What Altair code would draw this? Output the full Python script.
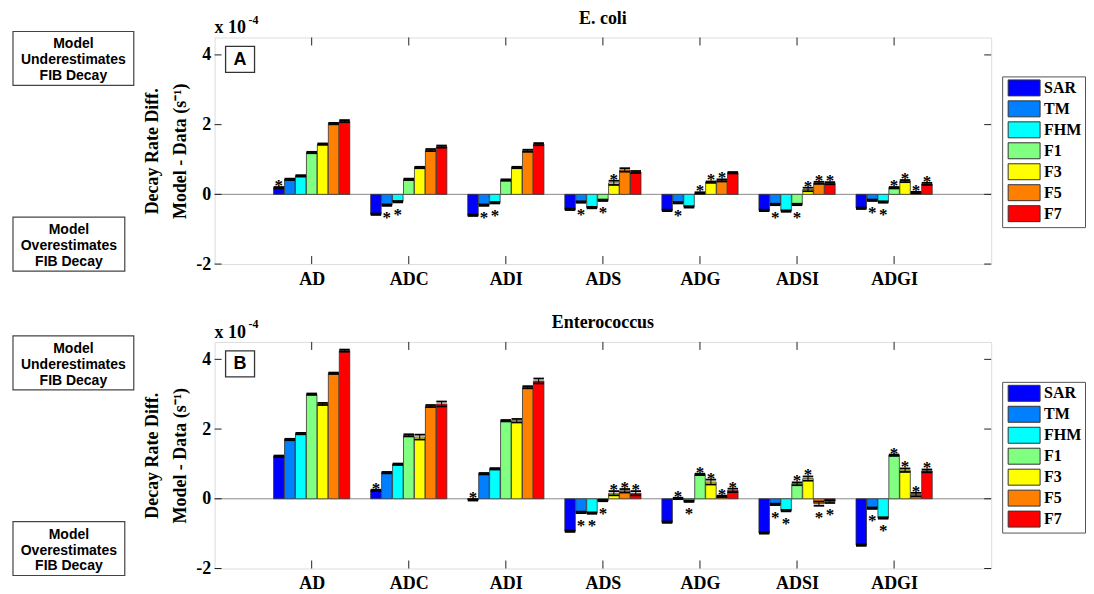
import altair as alt
import pandas as pd

# ---------------- data (values in units of 1e-4 s^-1) ----------------
series = ["SAR", "TM", "FHM", "F1", "F3", "F5", "F7"]
colors = ["#0000FF", "#0080FF", "#00FFFF", "#80FF80", "#FFFF00", "#FF8000", "#FF0000"]
categories = ["AD", "ADC", "ADI", "ADS", "ADG", "ADSI", "ADGI"]
y_ticks = [-2, 0, 2, 4]

# E. coli
ecoli_AD = [0.19, 0.43, 0.53, 1.20, 1.44, 2.03, 2.10]
ecoli_ADC = [-0.57, -0.31, -0.21, 0.43, 0.77, 1.27, 1.37]
ecoli_ADI = [-0.60, -0.31, -0.24, 0.41, 0.77, 1.25, 1.44]
ecoli_ADS = [-0.43, -0.22, -0.38, -0.17, 0.33, 0.70, 0.64]
ecoli_ADG = [-0.46, -0.24, -0.36, 0.04, 0.35, 0.40, 0.62]
ecoli_ADSI = [-0.46, -0.29, -0.48, -0.29, 0.14, 0.33, 0.32]
ecoli_ADGI = [-0.40, -0.17, -0.22, 0.19, 0.38, 0.05, 0.30]

ecoli_err_AD = [0.02, 0.02, 0.02, 0.02, 0.02, 0.02, 0.03]
ecoli_err_ADC = [0.02, 0.02, 0.02, 0.02, 0.02, 0.03, 0.03]
ecoli_err_ADI = [0.02, 0.02, 0.02, 0.02, 0.02, 0.03, 0.03]
ecoli_err_ADS = [0.02, 0.02, 0.02, 0.02, 0.06, 0.05, 0.03]
ecoli_err_ADG = [0.02, 0.02, 0.02, 0.02, 0.02, 0.03, 0.02]
ecoli_err_ADSI = [0.02, 0.02, 0.02, 0.02, 0.05, 0.03, 0.03]
ecoli_err_ADGI = [0.02, 0.02, 0.02, 0.02, 0.03, 0.02, 0.03]

# significance stars: 1 = above bar, -1 = below bar, 0 = none
ecoli_star_AD = [1, 0, 0, 0, 0, 0, 0]
ecoli_star_ADC = [0, -1, -1, 0, 0, 0, 0]
ecoli_star_ADI = [0, -1, -1, 0, 0, 0, 0]
ecoli_star_ADS = [0, -1, 0, -1, 1, 0, 0]
ecoli_star_ADG = [0, -1, 0, 1, 1, 1, 0]
ecoli_star_ADSI = [0, -1, 0, -1, 1, 1, 1]
ecoli_star_ADGI = [0, -1, -1, 1, 1, 1, 1]

# Enterococcus
ent_AD = [1.22, 1.70, 1.87, 3.00, 2.72, 3.60, 4.25]
ent_ADC = [0.24, 0.75, 0.99, 1.82, 1.77, 2.66, 2.72]
ent_ADI = [-0.03, 0.72, 0.86, 2.24, 2.24, 3.20, 3.38]
ent_ADS = [-0.93, -0.39, -0.41, -0.05, 0.16, 0.23, 0.16]
ent_ADG = [-0.67, 0.01, -0.07, 0.70, 0.48, 0.07, 0.24]
ent_ADSI = [-0.98, -0.16, -0.34, 0.43, 0.58, -0.14, -0.08]
ent_ADGI = [-1.33, -0.27, -0.55, 1.25, 0.82, 0.12, 0.80]

ent_err_AD = [0.02, 0.02, 0.02, 0.02, 0.03, 0.02, 0.03]
ent_err_ADC = [0.02, 0.02, 0.02, 0.03, 0.07, 0.03, 0.07]
ent_err_ADI = [0.02, 0.02, 0.02, 0.02, 0.05, 0.03, 0.07]
ent_err_ADS = [0.02, 0.02, 0.02, 0.02, 0.06, 0.05, 0.06]
ent_err_ADG = [0.02, 0.02, 0.02, 0.02, 0.07, 0.02, 0.05]
ent_err_ADSI = [0.02, 0.02, 0.02, 0.04, 0.06, 0.06, 0.04]
ent_err_ADGI = [0.02, 0.02, 0.02, 0.02, 0.05, 0.05, 0.04]

ent_star_AD = [0, 0, 0, 0, 0, 0, 0]
ent_star_ADC = [1, 0, 0, 0, 0, 0, 0]
ent_star_ADI = [1, 0, 0, 0, 0, 0, 0]
ent_star_ADS = [0, -1, -1, -1, 1, 1, 1]
ent_star_ADG = [0, 1, -1, 1, 1, 1, 1]
ent_star_ADSI = [0, -1, -1, 1, 1, -1, -1]
ent_star_ADGI = [0, -1, -1, 1, 1, 1, 1]


def build_frame(vals, errs, stars):
    rows = []
    for gi, cat in enumerate(categories):
        for si, s in enumerate(series):
            rows.append(dict(category=cat, gi=gi, series=s, si=si,
                             value=vals[gi][si], err=errs[gi][si], star=stars[gi][si]))
    return pd.DataFrame(rows)


ecoli_df = build_frame(
    [ecoli_AD, ecoli_ADC, ecoli_ADI, ecoli_ADS, ecoli_ADG, ecoli_ADSI, ecoli_ADGI],
    [ecoli_err_AD, ecoli_err_ADC, ecoli_err_ADI, ecoli_err_ADS, ecoli_err_ADG, ecoli_err_ADSI, ecoli_err_ADGI],
    [ecoli_star_AD, ecoli_star_ADC, ecoli_star_ADI, ecoli_star_ADS, ecoli_star_ADG, ecoli_star_ADSI, ecoli_star_ADGI],
)
ent_df = build_frame(
    [ent_AD, ent_ADC, ent_ADI, ent_ADS, ent_ADG, ent_ADSI, ent_ADGI],
    [ent_err_AD, ent_err_ADC, ent_err_ADI, ent_err_ADS, ent_err_ADG, ent_err_ADSI, ent_err_ADGI],
    [ent_star_AD, ent_star_ADC, ent_star_ADI, ent_star_ADS, ent_star_ADG, ent_star_ADSI, ent_star_ADGI],
)
cat_df = pd.DataFrame({"pos": list(range(1, len(categories) + 1)), "category": categories})
ytick_df = pd.DataFrame({"v": y_ticks})

# ---------------- styling ----------------
W, H = 778, 227
PITCH = 0.1128
SERIF = "Liberation Serif"
SANS = "Liberation Sans"
XS = alt.Scale(domain=[0, 8], nice=False, zero=False)
YS = alt.Scale(domain=[-2, 4.5], nice=False, zero=False)
label_expr = "[" + ",".join("'%s'" % c for c in categories) + "][datum.value - 1]"
BAR_PATH = "M-2,-1H2V1H-2Z"


def one(v):
    return pd.DataFrame({"t": [v]})


def panel(df, title, letter, legend_y):
    base = alt.Chart(df).transform_calculate(
        xc="datum.gi + 1 + (datum.si - 3) * %f" % PITCH,
        x0="datum.gi + 1 + (datum.si - 3) * %f - %f" % (PITCH, PITCH * 0.48),
        x1="datum.gi + 1 + (datum.si - 3) * %f + %f" % (PITCH, PITCH * 0.48),
        hi="datum.value + datum.err",
        lo="datum.value - datum.err",
    )

    zero = alt.Chart(one(0)).mark_rule(color="#8a8a8a", strokeWidth=1).encode(
        y=alt.Y("t:Q", scale=YS)
    )

    bars = base.mark_bar(stroke="#333333", strokeWidth=0.8).encode(
        x=alt.X("x0:Q", scale=XS,
                axis=alt.Axis(values=list(range(1, 8)), labelExpr=label_expr, ticks=False,
                              tickSize=0, domain=False, grid=False, title=None,
                              labelFont=SERIF, labelFontWeight="bold", labelFontSize=18,
                              labelColor="black", labelPadding=6)),
        x2="x1:Q",
        y=alt.Y("value:Q", scale=YS,
                axis=alt.Axis(values=y_ticks, labelExpr="toString(datum.value)",
                              ticks=False, tickSize=0, domain=False, grid=False,
                              title=["Decay Rate Diff.", "Model - Data (s\u207b\u00b9)"],
                              titleFont=SERIF, titleFontWeight="bold", titleFontSize=18,
                              titleColor="black", titleLineHeight=28, titlePadding=6,
                              labelFont=SERIF, labelFontWeight="bold", labelFontSize=18,
                              labelColor="black", labelPadding=4)),
        y2=alt.datum(0),
        color=alt.Color("series:N", scale=alt.Scale(domain=series, range=colors),
                        legend=alt.Legend(orient="none", legendX=789, legendY=legend_y, title=None,
                                          symbolType=BAR_PATH, symbolSize=256, symbolOffset=10.5,
                                          symbolStrokeColor="#333333", symbolStrokeWidth=1,
                                          symbolOpacity=1, labelFont=SERIF, labelFontWeight="bold",
                                          labelFontSize=16, labelColor="black", labelOffset=11.5,
                                          labelLimit=60,
                                          rowPadding=0, padding=3, strokeColor="#555555",
                                          fillColor="white", cornerRadius=0)),
    )

    err_line = base.mark_rule(color="black", strokeWidth=1).encode(
        x=alt.X("xc:Q", scale=XS), y=alt.Y("lo:Q", scale=YS), y2="hi:Q"
    )
    cap_hi = base.mark_rule(color="black", strokeWidth=1.8).encode(
        x=alt.X("x0:Q", scale=XS), x2="x1:Q", y=alt.Y("hi:Q", scale=YS)
    )
    cap_lo = base.mark_rule(color="black", strokeWidth=1.8).encode(
        x=alt.X("x0:Q", scale=XS), x2="x1:Q", y=alt.Y("lo:Q", scale=YS)
    )
    star_up = base.transform_filter("datum.star == 1").mark_text(
        text="*", font=SERIF, fontWeight="bold", fontSize=17, color="black",
        baseline="alphabetic", dy=4
    ).encode(x=alt.X("xc:Q", scale=XS), y=alt.Y("hi:Q", scale=YS))
    star_dn = base.transform_filter("datum.star == -1").mark_text(
        text="*", font=SERIF, fontWeight="bold", fontSize=17, color="black",
        baseline="alphabetic", dy=17.5
    ).encode(x=alt.X("xc:Q", scale=XS), y=alt.Y("lo:Q", scale=YS))

    # inward ticks
    cat_base = alt.Chart(cat_df)
    xt_bot = cat_base.mark_rule(color="#222222", strokeWidth=1).encode(
        x=alt.X("pos:Q", scale=XS), y=alt.value(H), y2=alt.value(H - 8))
    xt_top = cat_base.mark_rule(color="#222222", strokeWidth=1).encode(
        x=alt.X("pos:Q", scale=XS), y=alt.value(0), y2=alt.value(8))
    yt_base = alt.Chart(ytick_df)
    yt_left = yt_base.mark_rule(color="#222222", strokeWidth=1).encode(
        y=alt.Y("v:Q", scale=YS), x=alt.value(0), x2=alt.value(7))
    yt_right = yt_base.mark_rule(color="#222222", strokeWidth=1).encode(
        y=alt.Y("v:Q", scale=YS), x=alt.value(W - 7), x2=alt.value(W))

    # annotations
    ttl = alt.Chart(one(title)).mark_text(
        font=SERIF, fontWeight="bold", fontSize=18, color="black", align="center",
        baseline="top").encode(text="t:N", x=alt.value(W / 2), y=alt.value(-28))
    x10 = alt.Chart(one("x 10")).mark_text(
        font=SERIF, fontWeight="bold", fontSize=18, color="black", align="left",
        baseline="alphabetic").encode(text="t:N", x=alt.value(0), y=alt.value(-4))
    exp = alt.Chart(one("-4")).mark_text(
        font=SERIF, fontWeight="bold", fontSize=12, color="black", align="left",
        baseline="alphabetic").encode(text="t:N", x=alt.value(34), y=alt.value(-14))
    lbox = alt.Chart(one(0)).mark_rect(fill="white", stroke="#333333", strokeWidth=1.3).encode(
        x=alt.value(11), x2=alt.value(40), y=alt.value(9), y2=alt.value(35))
    ltxt = alt.Chart(one(letter)).mark_text(
        font=SANS, fontWeight="bold", fontSize=18, color="black", align="center",
        baseline="middle").encode(text="t:N", x=alt.value(25.5), y=alt.value(22.5))
    ubox = alt.Chart(one(0)).mark_rect(fill="white", stroke="#444444", strokeWidth=1.2).encode(
        x=alt.value(-202), x2=alt.value(-81), y=alt.value(-6), y2=alt.value(48))
    utxt = alt.Chart(one(0)).mark_text(
        font=SANS, fontWeight="bold", fontSize=14, color="black", align="center",
        baseline="alphabetic", lineHeight=16,
        text=["Model", "Underestimates", "FIB Decay"]).encode(
        x=alt.value(-141.5), y=alt.value(11))
    obox = alt.Chart(one(0)).mark_rect(fill="white", stroke="#444444", strokeWidth=1.2).encode(
        x=alt.value(-202), x2=alt.value(-90), y=alt.value(180), y2=alt.value(234))
    otxt = alt.Chart(one(0)).mark_text(
        font=SANS, fontWeight="bold", fontSize=14, color="black", align="center",
        baseline="alphabetic", lineHeight=16,
        text=["Model", "Overestimates", "FIB Decay"]).encode(
        x=alt.value(-146), y=alt.value(197))

    return alt.layer(
        zero, bars, err_line, cap_hi, cap_lo, star_up, star_dn,
        xt_bot, xt_top, yt_left, yt_right,
        ttl, x10, exp, lbox, ltxt, ubox, utxt, obox, otxt,
    ).properties(width=W, height=H)


panel_a = panel(ecoli_df, "E. coli", "A", 39)
panel_b = panel(ent_df, "Enterococcus", "B", 40)

chart = alt.vconcat(panel_a, panel_b, spacing=24).resolve_legend(
    color="independent"
).properties(
    padding={"left": 3, "top": 0, "right": 0, "bottom": 0}
).configure_view(
    stroke="#222222", strokeWidth=1.3
).configure(background="white")

chart.save("out.html", embed_options={"renderer": "svg", "actions": False})
